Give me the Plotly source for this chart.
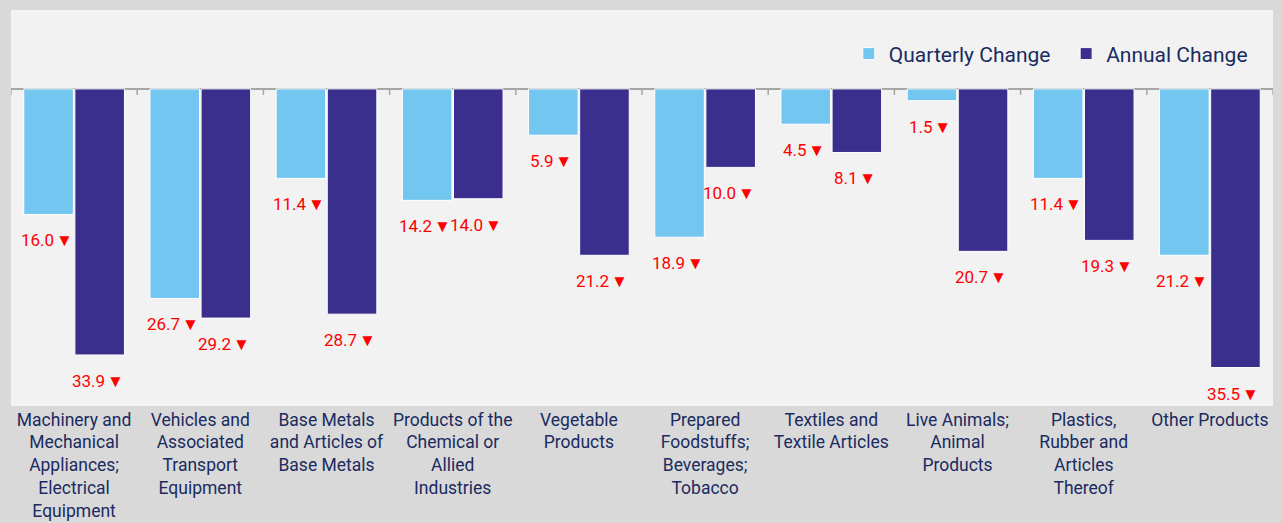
import plotly.graph_objects as go

categories = [
    "Machinery and<br>Mechanical<br>Appliances;<br>Electrical<br>Equipment",
    "Vehicles and<br>Associated<br>Transport<br>Equipment",
    "Base Metals<br>and Articles of<br>Base Metals",
    "Products of the<br>Chemical or<br>Allied<br>Industries",
    "Vegetable<br>Products",
    "Prepared<br>Foodstuffs;<br>Beverages;<br>Tobacco",
    "Textiles and<br>Textile Articles",
    "Live Animals;<br>Animal<br>Products",
    "Plastics,<br>Rubber and<br>Articles<br>Thereof",
    "Other Products",
]
quarterly_change = [16.0, 26.7, 11.4, 14.2, 5.9, 18.9, 4.5, 1.5, 11.4, 21.2]
annual_change = [33.9, 29.2, 28.7, 14.0, 21.2, 10.0, 8.1, 20.7, 19.3, 35.5]

LIGHT = "#73C6EF"
DARK = "#3B2F8E"
TEXT = "#1A2B5F"
FONT = "Roboto"
BARGAP = 0.19

idx = list(range(len(categories)))
fig = go.Figure()
fig.add_trace(go.Bar(name="Quarterly Change\u2002", x=idx, y=[-v for v in quarterly_change],
                     marker=dict(color=LIGHT, line=dict(color="white", width=1))))
fig.add_trace(go.Bar(name="Annual Change", x=idx, y=[-v for v in annual_change],
                     marker=dict(color=DARK, line=dict(color="white", width=1))))

off = (1 - BARGAP) / 4
annotations = []
for i in idx:
    for vals, sgn in ((quarterly_change, -1), (annual_change, 1)):
        v = vals[i]
        annotations.append(dict(
            x=i + sgn * off, y=-v, xref="x", yref="y",
            text=f"{v:.1f}\u200A\u25BC", showarrow=False,
            font=dict(color="#FF0000", size=17, family=FONT),
            yanchor="middle", yshift=-26, xshift=-2,
        ))

shapes = []
for b in range(len(categories) + 1):
    shapes.append(dict(type="line", xref="x", yref="y", x0=b - 0.5, x1=b - 0.5,
                       ysizemode="pixel", yanchor=0, y0=0, y1=-6,
                       line=dict(color="#A6A6A6", width=1.5)))

fig.update_layout(
    width=1282, height=523,
    margin=dict(l=11, r=9, t=10, b=117, autoexpand=False),
    paper_bgcolor="#D9D9D9", plot_bgcolor="#F2F2F2",
    barmode="group", bargap=BARGAP, bargroupgap=0.03,
    font=dict(family=FONT, color=TEXT),
    legend=dict(orientation="h", x=0.984, xanchor="right", y=0.889, yanchor="middle",
                bgcolor="rgba(0,0,0,0)",
                font=dict(size=21, color=TEXT, family=FONT)),
    xaxis=dict(range=[-0.5, len(categories) - 0.5], tickmode="array", tickvals=idx,
               ticktext=categories, showgrid=False, showline=False, ticks="",
               automargin=False, ticklabelstandoff=1,
               tickfont=dict(size=17.5, color=TEXT, family=FONT), tickangle=0),
    yaxis=dict(range=[-40.4, 10.05], showgrid=False, showticklabels=False,
               automargin=False,
               zeroline=True, zerolinecolor="#A6A6A6", zerolinewidth=2),
    annotations=annotations, shapes=shapes,
    showlegend=True,
)
fig.write_html("out.html", config={"displayModeBar": False},
               post_script="document.body.style.margin='0';document.body.style.background='#D9D9D9';")
